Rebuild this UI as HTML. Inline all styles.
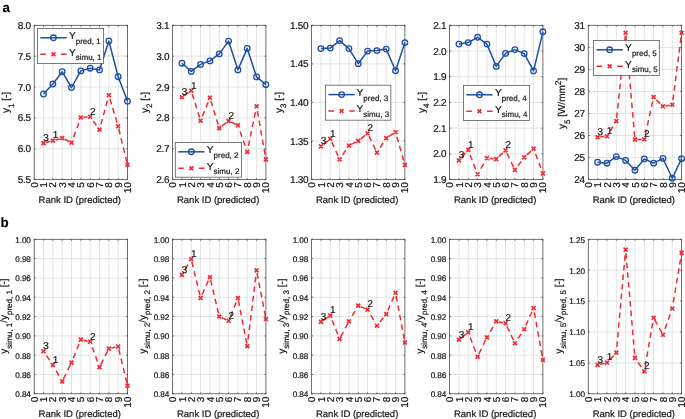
<!DOCTYPE html>
<html><head><meta charset="utf-8"><title>Figure</title>
<style>html,body{margin:0;padding:0;background:#fff;}body{width:685px;height:419px;overflow:hidden;font-family:"Liberation Sans", sans-serif;}svg{display:block;will-change:transform;}svg text{font-family:"Liberation Sans", sans-serif;text-rendering:geometricPrecision;stroke:#141414;stroke-width:0.2px;}</style>
</head><body>
<svg width="685" height="419" viewBox="0 0 685 419" fill="#141414">
<rect width="685" height="419" fill="#fff"/>
<text x="2.4" y="11.5" font-size="13.3" font-weight="bold" fill="#000" stroke="#000" stroke-width="0.2">a</text>
<text x="0.4" y="227.45" font-size="13.3" font-weight="bold" fill="#000" stroke="#000" stroke-width="0.2">b</text>
<path d="M43.53 25.3V179.6M52.86 25.3V179.6M62.19 25.3V179.6M71.52 25.3V179.6M80.85 25.3V179.6M90.18 25.3V179.6M99.51 25.3V179.6M108.84 25.3V179.6M118.17 25.3V179.6M34.2 56.16H127.5M34.2 87.02H127.5M34.2 117.88H127.5M34.2 148.74H127.5" stroke="#d6d8d8" stroke-width="0.7" fill="none"/>
<path d="M34.2 179.6v-1.4M34.2 25.3v1.4M43.53 179.6v-1.4M43.53 25.3v1.4M52.86 179.6v-1.4M52.86 25.3v1.4M62.19 179.6v-1.4M62.19 25.3v1.4M71.52 179.6v-1.4M71.52 25.3v1.4M80.85 179.6v-1.4M80.85 25.3v1.4M90.18 179.6v-1.4M90.18 25.3v1.4M99.51 179.6v-1.4M99.51 25.3v1.4M108.84 179.6v-1.4M108.84 25.3v1.4M118.17 179.6v-1.4M118.17 25.3v1.4M127.5 179.6v-1.4M127.5 25.3v1.4M34.2 25.3h1.4M127.5 25.3h-1.4M34.2 56.16h1.4M127.5 56.16h-1.4M34.2 87.02h1.4M127.5 87.02h-1.4M34.2 117.88h1.4M127.5 117.88h-1.4M34.2 148.74h1.4M127.5 148.74h-1.4M34.2 179.6h1.4M127.5 179.6h-1.4" stroke="#404040" stroke-width="0.75" fill="none"/>
<rect x="34.2" y="25.3" width="93.3" height="154.3" fill="none" stroke="#404040" stroke-width="0.75"/>
<text x="30.8" y="28.88" font-size="10.0" text-anchor="end" letter-spacing="-0.3">8.0</text>
<text x="30.8" y="59.74" font-size="10.0" text-anchor="end" letter-spacing="-0.3">7.5</text>
<text x="30.8" y="90.6" font-size="10.0" text-anchor="end" letter-spacing="-0.3">7.0</text>
<text x="30.8" y="121.46" font-size="10.0" text-anchor="end" letter-spacing="-0.3">6.5</text>
<text x="30.8" y="152.32" font-size="10.0" text-anchor="end" letter-spacing="-0.3">6.0</text>
<text x="30.8" y="183.18" font-size="10.0" text-anchor="end" letter-spacing="-0.3">5.5</text>
<text transform="translate(37.78 182.6) rotate(-90)" font-size="10.0" text-anchor="end" letter-spacing="-0.3">0</text>
<text transform="translate(47.11 182.6) rotate(-90)" font-size="10.0" text-anchor="end" letter-spacing="-0.3">1</text>
<text transform="translate(56.44 182.6) rotate(-90)" font-size="10.0" text-anchor="end" letter-spacing="-0.3">2</text>
<text transform="translate(65.77 182.6) rotate(-90)" font-size="10.0" text-anchor="end" letter-spacing="-0.3">3</text>
<text transform="translate(75.1 182.6) rotate(-90)" font-size="10.0" text-anchor="end" letter-spacing="-0.3">4</text>
<text transform="translate(84.43 182.6) rotate(-90)" font-size="10.0" text-anchor="end" letter-spacing="-0.3">5</text>
<text transform="translate(93.76 182.6) rotate(-90)" font-size="10.0" text-anchor="end" letter-spacing="-0.3">6</text>
<text transform="translate(103.09 182.6) rotate(-90)" font-size="10.0" text-anchor="end" letter-spacing="-0.3">7</text>
<text transform="translate(112.42 182.6) rotate(-90)" font-size="10.0" text-anchor="end" letter-spacing="-0.3">8</text>
<text transform="translate(121.75 182.6) rotate(-90)" font-size="10.0" text-anchor="end" letter-spacing="-0.3">9</text>
<text transform="translate(131.08 182.6) rotate(-90)" font-size="10.0" text-anchor="end" letter-spacing="-0.3">10</text>
<text x="79.75" y="203.3" font-size="9.5" text-anchor="middle">Rank ID (predicted)</text>
<text transform="translate(9.3 102.45) rotate(-90)" font-size="10.0" text-anchor="middle">y<tspan font-size="8.0" dy="4.4">1</tspan><tspan dy="-4.4"> [-]</tspan></text>
<polyline points="43.53,94 52.86,84 62.19,71.7 71.52,87.5 80.85,70.9 90.18,68.2 99.51,69.9 108.84,40.9 118.17,76.7 127.5,101.3" fill="none" stroke="#1f4fa3" stroke-width="1.5" stroke-linejoin="round"/>
<circle cx="43.53" cy="94" r="2.8" fill="none" stroke="#1f4fa3" stroke-width="1.3"/>
<circle cx="52.86" cy="84" r="2.8" fill="none" stroke="#1f4fa3" stroke-width="1.3"/>
<circle cx="62.19" cy="71.7" r="2.8" fill="none" stroke="#1f4fa3" stroke-width="1.3"/>
<circle cx="71.52" cy="87.5" r="2.8" fill="none" stroke="#1f4fa3" stroke-width="1.3"/>
<circle cx="80.85" cy="70.9" r="2.8" fill="none" stroke="#1f4fa3" stroke-width="1.3"/>
<circle cx="90.18" cy="68.2" r="2.8" fill="none" stroke="#1f4fa3" stroke-width="1.3"/>
<circle cx="99.51" cy="69.9" r="2.8" fill="none" stroke="#1f4fa3" stroke-width="1.3"/>
<circle cx="108.84" cy="40.9" r="2.8" fill="none" stroke="#1f4fa3" stroke-width="1.3"/>
<circle cx="118.17" cy="76.7" r="2.8" fill="none" stroke="#1f4fa3" stroke-width="1.3"/>
<circle cx="127.5" cy="101.3" r="2.8" fill="none" stroke="#1f4fa3" stroke-width="1.3"/>
<path d="M46.04 142.43L50.35 141.27M55.37 139.93L59.68 138.77M64.53 139.23L69.18 141.47M73.54 137.17L75.49 131.92M76.88 128.18L78.83 122.93M83.44 117.31L87.59 116.99M93.2 120.94L96.49 125.46M100.93 124.37L102.4 118.96M103.44 115.1L104.91 109.7M105.95 105.84L107.42 100.43M109.94 98.87L111.55 104.24M112.7 108.07L114.31 113.43M115.46 117.26L117.07 122.63M118.77 128.79L120.1 134.23M121.04 138.11L122.36 143.56M123.31 147.44L124.63 152.89M125.57 156.77L126.9 162.21" fill="none" stroke="#ee2c35" stroke-width="1.5"/>
<path d="M41.58 141.15l3.9 3.9M41.58 145.05l3.9 -3.9M50.91 138.65l3.9 3.9M50.91 142.55l3.9 -3.9M60.24 136.15l3.9 3.9M60.24 140.05l3.9 -3.9M69.57 140.65l3.9 3.9M69.57 144.55l3.9 -3.9M78.9 115.55l3.9 3.9M78.9 119.45l3.9 -3.9M88.23 114.85l3.9 3.9M88.23 118.75l3.9 -3.9M97.56 127.65l3.9 3.9M97.56 131.55l3.9 -3.9M106.89 93.25l3.9 3.9M106.89 97.15l3.9 -3.9M116.22 124.35l3.9 3.9M116.22 128.25l3.9 -3.9M125.55 162.75l3.9 3.9M125.55 166.65l3.9 -3.9" stroke="#ee2c35" stroke-width="1.7" fill="none"/>
<text x="43.33" y="140.9" font-size="10.0">3</text>
<text x="52.66" y="138.4" font-size="10.0">1</text>
<text x="89.98" y="114.6" font-size="10.0">2</text>
<rect x="37.4" y="28.4" width="66.2" height="35" fill="#fff" stroke="#5a5a5a" stroke-width="0.8"/>
<path d="M40.3 37.8H66.6" stroke="#1f4fa3" stroke-width="1.5"/>
<circle cx="53.45" cy="37.8" r="2.8" fill="none" stroke="#1f4fa3" stroke-width="1.3"/>
<path d="M40.3 54.2h5.6M66.6 54.2h-5.6" stroke="#ee2c35" stroke-width="1.5"/>
<path d="M51.55 52.3l3.8 3.8M51.55 56.1l3.8 -3.8" stroke="#ee2c35" stroke-width="1.7"/>
<text x="68.9" y="39.1" font-size="10.2">Y<tspan font-size="8" dy="4.6">pred, 1</tspan></text>
<text x="68.9" y="55.5" font-size="10.2">Y<tspan font-size="8" dy="4.6">simu, 1</tspan></text>
<path d="M43.53 239.3V393.8M52.86 239.3V393.8M62.19 239.3V393.8M71.52 239.3V393.8M80.85 239.3V393.8M90.18 239.3V393.8M99.51 239.3V393.8M108.84 239.3V393.8M118.17 239.3V393.8M34.2 258.61H127.5M34.2 277.93H127.5M34.2 297.24H127.5M34.2 316.55H127.5M34.2 335.86H127.5M34.2 355.18H127.5M34.2 374.49H127.5" stroke="#d6d8d8" stroke-width="0.7" fill="none"/>
<path d="M34.2 393.8v-1.4M34.2 239.3v1.4M43.53 393.8v-1.4M43.53 239.3v1.4M52.86 393.8v-1.4M52.86 239.3v1.4M62.19 393.8v-1.4M62.19 239.3v1.4M71.52 393.8v-1.4M71.52 239.3v1.4M80.85 393.8v-1.4M80.85 239.3v1.4M90.18 393.8v-1.4M90.18 239.3v1.4M99.51 393.8v-1.4M99.51 239.3v1.4M108.84 393.8v-1.4M108.84 239.3v1.4M118.17 393.8v-1.4M118.17 239.3v1.4M127.5 393.8v-1.4M127.5 239.3v1.4M34.2 239.3h1.4M127.5 239.3h-1.4M34.2 258.61h1.4M127.5 258.61h-1.4M34.2 277.93h1.4M127.5 277.93h-1.4M34.2 297.24h1.4M127.5 297.24h-1.4M34.2 316.55h1.4M127.5 316.55h-1.4M34.2 335.86h1.4M127.5 335.86h-1.4M34.2 355.18h1.4M127.5 355.18h-1.4M34.2 374.49h1.4M127.5 374.49h-1.4M34.2 393.8h1.4M127.5 393.8h-1.4" stroke="#404040" stroke-width="0.75" fill="none"/>
<rect x="34.2" y="239.3" width="93.3" height="154.5" fill="none" stroke="#404040" stroke-width="0.75"/>
<text x="30.8" y="242.64" font-size="8.2" text-anchor="end" letter-spacing="-0.1">1.00</text>
<text x="30.8" y="261.95" font-size="8.2" text-anchor="end" letter-spacing="-0.1">0.98</text>
<text x="30.8" y="281.26" font-size="8.2" text-anchor="end" letter-spacing="-0.1">0.96</text>
<text x="30.8" y="300.57" font-size="8.2" text-anchor="end" letter-spacing="-0.1">0.94</text>
<text x="30.8" y="319.89" font-size="8.2" text-anchor="end" letter-spacing="-0.1">0.92</text>
<text x="30.8" y="339.2" font-size="8.2" text-anchor="end" letter-spacing="-0.1">0.90</text>
<text x="30.8" y="358.51" font-size="8.2" text-anchor="end" letter-spacing="-0.1">0.88</text>
<text x="30.8" y="377.82" font-size="8.2" text-anchor="end" letter-spacing="-0.1">0.86</text>
<text x="30.8" y="397.14" font-size="8.2" text-anchor="end" letter-spacing="-0.1">0.84</text>
<text transform="translate(37.78 397.1) rotate(-90)" font-size="10.0" text-anchor="end" letter-spacing="-0.3">0</text>
<text transform="translate(47.11 397.1) rotate(-90)" font-size="10.0" text-anchor="end" letter-spacing="-0.3">1</text>
<text transform="translate(56.44 397.1) rotate(-90)" font-size="10.0" text-anchor="end" letter-spacing="-0.3">2</text>
<text transform="translate(65.77 397.1) rotate(-90)" font-size="10.0" text-anchor="end" letter-spacing="-0.3">3</text>
<text transform="translate(75.1 397.1) rotate(-90)" font-size="10.0" text-anchor="end" letter-spacing="-0.3">4</text>
<text transform="translate(84.43 397.1) rotate(-90)" font-size="10.0" text-anchor="end" letter-spacing="-0.3">5</text>
<text transform="translate(93.76 397.1) rotate(-90)" font-size="10.0" text-anchor="end" letter-spacing="-0.3">6</text>
<text transform="translate(103.09 397.1) rotate(-90)" font-size="10.0" text-anchor="end" letter-spacing="-0.3">7</text>
<text transform="translate(112.42 397.1) rotate(-90)" font-size="10.0" text-anchor="end" letter-spacing="-0.3">8</text>
<text transform="translate(121.75 397.1) rotate(-90)" font-size="10.0" text-anchor="end" letter-spacing="-0.3">9</text>
<text transform="translate(131.08 397.1) rotate(-90)" font-size="10.0" text-anchor="end" letter-spacing="-0.3">10</text>
<text x="79.75" y="416.5" font-size="9.5" text-anchor="middle">Rank ID (predicted)</text>
<text transform="translate(7.4 316.05) rotate(-90)" font-size="10.0" text-anchor="middle">y<tspan font-size="8.0" dy="4.4">simu, 1</tspan><tspan dy="-4.4">/y</tspan><tspan font-size="8.0" dy="4.4">pred, 1</tspan><tspan dy="-4.4"> [-]</tspan></text>
<path d="M46.61 355.79L49.78 360.41M56.15 370.71L58.9 375.59M63.48 378.81L65.97 373.79M67.74 370.21L70.23 365.19M73.33 358.14L75.43 352.95M76.94 349.25L79.04 344.06M83.38 340.2L87.65 341.2M92.22 347.32L94.15 352.57M95.54 356.33L97.47 361.58M100.75 364.64L103.27 359.64M105.08 356.06L107.6 351.06M111.38 348.06L115.63 347.14M118.84 349.42L120.14 354.87M121.07 358.76L122.37 364.2M123.3 368.1L124.6 373.54M125.53 377.43L126.83 382.88" fill="none" stroke="#ee2c35" stroke-width="1.5"/>
<path d="M41.58 349.35l3.9 3.9M41.58 353.25l3.9 -3.9M50.91 362.95l3.9 3.9M50.91 366.85l3.9 -3.9M60.24 379.45l3.9 3.9M60.24 383.35l3.9 -3.9M69.57 360.65l3.9 3.9M69.57 364.55l3.9 -3.9M78.9 337.65l3.9 3.9M78.9 341.55l3.9 -3.9M88.23 339.85l3.9 3.9M88.23 343.75l3.9 -3.9M97.56 365.15l3.9 3.9M97.56 369.05l3.9 -3.9M106.89 346.65l3.9 3.9M106.89 350.55l3.9 -3.9M116.22 344.65l3.9 3.9M116.22 348.55l3.9 -3.9M125.55 383.75l3.9 3.9M125.55 387.65l3.9 -3.9" stroke="#ee2c35" stroke-width="1.7" fill="none"/>
<text x="43.33" y="349.1" font-size="10.0">3</text>
<text x="52.66" y="362.7" font-size="10.0">1</text>
<text x="89.98" y="339.6" font-size="10.0">2</text>
<path d="M181.93 25.3V179.6M191.26 25.3V179.6M200.59 25.3V179.6M209.92 25.3V179.6M219.25 25.3V179.6M228.58 25.3V179.6M237.91 25.3V179.6M247.24 25.3V179.6M256.57 25.3V179.6M172.6 56.16H265.9M172.6 87.02H265.9M172.6 117.88H265.9M172.6 148.74H265.9" stroke="#d6d8d8" stroke-width="0.7" fill="none"/>
<path d="M172.6 179.6v-1.4M172.6 25.3v1.4M181.93 179.6v-1.4M181.93 25.3v1.4M191.26 179.6v-1.4M191.26 25.3v1.4M200.59 179.6v-1.4M200.59 25.3v1.4M209.92 179.6v-1.4M209.92 25.3v1.4M219.25 179.6v-1.4M219.25 25.3v1.4M228.58 179.6v-1.4M228.58 25.3v1.4M237.91 179.6v-1.4M237.91 25.3v1.4M247.24 179.6v-1.4M247.24 25.3v1.4M256.57 179.6v-1.4M256.57 25.3v1.4M265.9 179.6v-1.4M265.9 25.3v1.4M172.6 25.3h1.4M265.9 25.3h-1.4M172.6 56.16h1.4M265.9 56.16h-1.4M172.6 87.02h1.4M265.9 87.02h-1.4M172.6 117.88h1.4M265.9 117.88h-1.4M172.6 148.74h1.4M265.9 148.74h-1.4M172.6 179.6h1.4M265.9 179.6h-1.4" stroke="#404040" stroke-width="0.75" fill="none"/>
<rect x="172.6" y="25.3" width="93.3" height="154.3" fill="none" stroke="#404040" stroke-width="0.75"/>
<text x="169.2" y="28.88" font-size="10.0" text-anchor="end" letter-spacing="-0.3">3.1</text>
<text x="169.2" y="59.74" font-size="10.0" text-anchor="end" letter-spacing="-0.3">3.0</text>
<text x="169.2" y="90.6" font-size="10.0" text-anchor="end" letter-spacing="-0.3">2.9</text>
<text x="169.2" y="121.46" font-size="10.0" text-anchor="end" letter-spacing="-0.3">2.8</text>
<text x="169.2" y="152.32" font-size="10.0" text-anchor="end" letter-spacing="-0.3">2.7</text>
<text x="169.2" y="183.18" font-size="10.0" text-anchor="end" letter-spacing="-0.3">2.6</text>
<text transform="translate(176.18 182.6) rotate(-90)" font-size="10.0" text-anchor="end" letter-spacing="-0.3">0</text>
<text transform="translate(185.51 182.6) rotate(-90)" font-size="10.0" text-anchor="end" letter-spacing="-0.3">1</text>
<text transform="translate(194.84 182.6) rotate(-90)" font-size="10.0" text-anchor="end" letter-spacing="-0.3">2</text>
<text transform="translate(204.17 182.6) rotate(-90)" font-size="10.0" text-anchor="end" letter-spacing="-0.3">3</text>
<text transform="translate(213.5 182.6) rotate(-90)" font-size="10.0" text-anchor="end" letter-spacing="-0.3">4</text>
<text transform="translate(222.83 182.6) rotate(-90)" font-size="10.0" text-anchor="end" letter-spacing="-0.3">5</text>
<text transform="translate(232.16 182.6) rotate(-90)" font-size="10.0" text-anchor="end" letter-spacing="-0.3">6</text>
<text transform="translate(241.49 182.6) rotate(-90)" font-size="10.0" text-anchor="end" letter-spacing="-0.3">7</text>
<text transform="translate(250.82 182.6) rotate(-90)" font-size="10.0" text-anchor="end" letter-spacing="-0.3">8</text>
<text transform="translate(260.15 182.6) rotate(-90)" font-size="10.0" text-anchor="end" letter-spacing="-0.3">9</text>
<text transform="translate(269.48 182.6) rotate(-90)" font-size="10.0" text-anchor="end" letter-spacing="-0.3">10</text>
<text x="218.15" y="203.3" font-size="9.5" text-anchor="middle">Rank ID (predicted)</text>
<text transform="translate(147.7 102.45) rotate(-90)" font-size="10.0" text-anchor="middle">y<tspan font-size="8.0" dy="4.4">2</tspan><tspan dy="-4.4"> [-]</tspan></text>
<polyline points="181.93,63.2 191.26,71.4 200.59,64.4 209.92,60.9 219.25,53.9 228.58,41.1 237.91,69.9 247.24,48.4 256.57,76.9 265.9,84.7" fill="none" stroke="#1f4fa3" stroke-width="1.5" stroke-linejoin="round"/>
<circle cx="181.93" cy="63.2" r="2.8" fill="none" stroke="#1f4fa3" stroke-width="1.3"/>
<circle cx="191.26" cy="71.4" r="2.8" fill="none" stroke="#1f4fa3" stroke-width="1.3"/>
<circle cx="200.59" cy="64.4" r="2.8" fill="none" stroke="#1f4fa3" stroke-width="1.3"/>
<circle cx="209.92" cy="60.9" r="2.8" fill="none" stroke="#1f4fa3" stroke-width="1.3"/>
<circle cx="219.25" cy="53.9" r="2.8" fill="none" stroke="#1f4fa3" stroke-width="1.3"/>
<circle cx="228.58" cy="41.1" r="2.8" fill="none" stroke="#1f4fa3" stroke-width="1.3"/>
<circle cx="237.91" cy="69.9" r="2.8" fill="none" stroke="#1f4fa3" stroke-width="1.3"/>
<circle cx="247.24" cy="48.4" r="2.8" fill="none" stroke="#1f4fa3" stroke-width="1.3"/>
<circle cx="256.57" cy="76.9" r="2.8" fill="none" stroke="#1f4fa3" stroke-width="1.3"/>
<circle cx="265.9" cy="84.7" r="2.8" fill="none" stroke="#1f4fa3" stroke-width="1.3"/>
<path d="M184.3 95.55L188.89 92.35M192.25 93.91L193.91 99.25M195.1 103.08L196.75 108.42M197.94 112.25L199.6 117.59M202.41 116.3L204.51 111.1M206 107.4L208.1 102.2M210.95 101.05L212.59 106.4M213.76 110.22L215.41 115.58M216.58 119.4L218.22 124.75M221.69 126.25L226.14 122.85M230.94 122.09L235.55 124.21M240.06 131.43L241.91 136.71M243.24 140.49L245.09 145.77M248.46 145.95L249.58 140.46M250.38 136.55L251.5 131.06M252.31 127.14L253.43 121.65M254.23 117.74L255.35 112.25M257.43 111.18L258.4 116.7M259.09 120.64L260.06 126.15M260.75 130.09L261.72 135.61M262.41 139.55L263.38 145.06M264.07 149L265.04 154.52" fill="none" stroke="#ee2c35" stroke-width="1.5"/>
<path d="M179.98 95.25l3.9 3.9M179.98 99.15l3.9 -3.9M189.31 88.75l3.9 3.9M189.31 92.65l3.9 -3.9M198.64 118.85l3.9 3.9M198.64 122.75l3.9 -3.9M207.97 95.75l3.9 3.9M207.97 99.65l3.9 -3.9M217.3 126.15l3.9 3.9M217.3 130.05l3.9 -3.9M226.63 119.05l3.9 3.9M226.63 122.95l3.9 -3.9M235.96 123.35l3.9 3.9M235.96 127.25l3.9 -3.9M245.29 149.95l3.9 3.9M245.29 153.85l3.9 -3.9M254.62 104.35l3.9 3.9M254.62 108.25l3.9 -3.9M263.95 157.45l3.9 3.9M263.95 161.35l3.9 -3.9" stroke="#ee2c35" stroke-width="1.7" fill="none"/>
<text x="181.73" y="95" font-size="10.0">3</text>
<text x="191.06" y="88.5" font-size="10.0">1</text>
<text x="228.38" y="118.8" font-size="10.0">2</text>
<rect x="175.3" y="142.4" width="66.2" height="34.8" fill="#fff" stroke="#5a5a5a" stroke-width="0.8"/>
<path d="M178.2 151.8H204.5" stroke="#1f4fa3" stroke-width="1.5"/>
<circle cx="191.35" cy="151.8" r="2.8" fill="none" stroke="#1f4fa3" stroke-width="1.3"/>
<path d="M178.2 168.2h5.6M204.5 168.2h-5.6" stroke="#ee2c35" stroke-width="1.5"/>
<path d="M189.45 166.3l3.8 3.8M189.45 170.1l3.8 -3.8" stroke="#ee2c35" stroke-width="1.7"/>
<text x="206.8" y="153.1" font-size="10.2">Y<tspan font-size="8" dy="4.6">pred, 2</tspan></text>
<text x="206.8" y="169.5" font-size="10.2">Y<tspan font-size="8" dy="4.6">simu, 2</tspan></text>
<path d="M181.93 239.3V393.8M191.26 239.3V393.8M200.59 239.3V393.8M209.92 239.3V393.8M219.25 239.3V393.8M228.58 239.3V393.8M237.91 239.3V393.8M247.24 239.3V393.8M256.57 239.3V393.8M172.6 258.61H265.9M172.6 277.93H265.9M172.6 297.24H265.9M172.6 316.55H265.9M172.6 335.86H265.9M172.6 355.18H265.9M172.6 374.49H265.9" stroke="#d6d8d8" stroke-width="0.7" fill="none"/>
<path d="M172.6 393.8v-1.4M172.6 239.3v1.4M181.93 393.8v-1.4M181.93 239.3v1.4M191.26 393.8v-1.4M191.26 239.3v1.4M200.59 393.8v-1.4M200.59 239.3v1.4M209.92 393.8v-1.4M209.92 239.3v1.4M219.25 393.8v-1.4M219.25 239.3v1.4M228.58 393.8v-1.4M228.58 239.3v1.4M237.91 393.8v-1.4M237.91 239.3v1.4M247.24 393.8v-1.4M247.24 239.3v1.4M256.57 393.8v-1.4M256.57 239.3v1.4M265.9 393.8v-1.4M265.9 239.3v1.4M172.6 239.3h1.4M265.9 239.3h-1.4M172.6 258.61h1.4M265.9 258.61h-1.4M172.6 277.93h1.4M265.9 277.93h-1.4M172.6 297.24h1.4M265.9 297.24h-1.4M172.6 316.55h1.4M265.9 316.55h-1.4M172.6 335.86h1.4M265.9 335.86h-1.4M172.6 355.18h1.4M265.9 355.18h-1.4M172.6 374.49h1.4M265.9 374.49h-1.4M172.6 393.8h1.4M265.9 393.8h-1.4" stroke="#404040" stroke-width="0.75" fill="none"/>
<rect x="172.6" y="239.3" width="93.3" height="154.5" fill="none" stroke="#404040" stroke-width="0.75"/>
<text x="169.2" y="242.64" font-size="8.2" text-anchor="end" letter-spacing="-0.1">1.00</text>
<text x="169.2" y="261.95" font-size="8.2" text-anchor="end" letter-spacing="-0.1">0.98</text>
<text x="169.2" y="281.26" font-size="8.2" text-anchor="end" letter-spacing="-0.1">0.96</text>
<text x="169.2" y="300.57" font-size="8.2" text-anchor="end" letter-spacing="-0.1">0.94</text>
<text x="169.2" y="319.89" font-size="8.2" text-anchor="end" letter-spacing="-0.1">0.92</text>
<text x="169.2" y="339.2" font-size="8.2" text-anchor="end" letter-spacing="-0.1">0.90</text>
<text x="169.2" y="358.51" font-size="8.2" text-anchor="end" letter-spacing="-0.1">0.88</text>
<text x="169.2" y="377.82" font-size="8.2" text-anchor="end" letter-spacing="-0.1">0.86</text>
<text x="169.2" y="397.14" font-size="8.2" text-anchor="end" letter-spacing="-0.1">0.84</text>
<text transform="translate(176.18 397.1) rotate(-90)" font-size="10.0" text-anchor="end" letter-spacing="-0.3">0</text>
<text transform="translate(185.51 397.1) rotate(-90)" font-size="10.0" text-anchor="end" letter-spacing="-0.3">1</text>
<text transform="translate(194.84 397.1) rotate(-90)" font-size="10.0" text-anchor="end" letter-spacing="-0.3">2</text>
<text transform="translate(204.17 397.1) rotate(-90)" font-size="10.0" text-anchor="end" letter-spacing="-0.3">3</text>
<text transform="translate(213.5 397.1) rotate(-90)" font-size="10.0" text-anchor="end" letter-spacing="-0.3">4</text>
<text transform="translate(222.83 397.1) rotate(-90)" font-size="10.0" text-anchor="end" letter-spacing="-0.3">5</text>
<text transform="translate(232.16 397.1) rotate(-90)" font-size="10.0" text-anchor="end" letter-spacing="-0.3">6</text>
<text transform="translate(241.49 397.1) rotate(-90)" font-size="10.0" text-anchor="end" letter-spacing="-0.3">7</text>
<text transform="translate(250.82 397.1) rotate(-90)" font-size="10.0" text-anchor="end" letter-spacing="-0.3">8</text>
<text transform="translate(260.15 397.1) rotate(-90)" font-size="10.0" text-anchor="end" letter-spacing="-0.3">9</text>
<text transform="translate(269.48 397.1) rotate(-90)" font-size="10.0" text-anchor="end" letter-spacing="-0.3">10</text>
<text x="218.15" y="416.5" font-size="9.5" text-anchor="middle">Rank ID (predicted)</text>
<text transform="translate(145.8 316.05) rotate(-90)" font-size="10.0" text-anchor="middle">y<tspan font-size="8.0" dy="4.4">simu, 2</tspan><tspan dy="-4.4">/y</tspan><tspan font-size="8.0" dy="4.4">pred, 2</tspan><tspan dy="-4.4"> [-]</tspan></text>
<path d="M185.17 269.41L188.02 264.59M191.91 261.82L193.22 267.27M194.15 271.16L195.46 276.61M196.39 280.49L197.7 285.94M198.63 289.83L199.94 295.28M202.14 294.53L204.44 289.42M206.07 285.78L208.37 280.67M210.61 280.12L211.91 285.56M212.83 289.46L214.12 294.9M215.05 298.8L216.34 304.24M217.26 308.14L218.56 313.58M221.61 317.59L226.22 319.71M230.37 316.43L232.49 311.25M234 307.55L236.12 302.37M238.39 300.45L239.45 305.95M240.21 309.88L241.28 315.37M242.04 319.3L243.11 324.8M243.87 328.73L244.94 334.22M245.7 338.15L246.76 343.65M248.04 339.61L248.72 334.05M249.21 330.08L249.9 324.53M250.39 320.56L251.07 315M251.56 311.03L252.25 305.47M252.74 301.5L253.42 295.94M253.91 291.97L254.6 286.42M255.09 282.45L255.77 276.89M257.09 273.09L258.14 278.59M258.9 282.52L259.95 288.02M260.71 291.95L261.76 297.45M262.52 301.38L263.57 306.88M264.33 310.81L265.38 316.31" fill="none" stroke="#ee2c35" stroke-width="1.5"/>
<path d="M179.98 272.95l3.9 3.9M179.98 276.85l3.9 -3.9M189.31 257.15l3.9 3.9M189.31 261.05l3.9 -3.9M198.64 296.05l3.9 3.9M198.64 299.95l3.9 -3.9M207.97 275.25l3.9 3.9M207.97 279.15l3.9 -3.9M217.3 314.55l3.9 3.9M217.3 318.45l3.9 -3.9M226.63 318.85l3.9 3.9M226.63 322.75l3.9 -3.9M235.96 296.05l3.9 3.9M235.96 299.95l3.9 -3.9M245.29 344.15l3.9 3.9M245.29 348.05l3.9 -3.9M254.62 268.45l3.9 3.9M254.62 272.35l3.9 -3.9M263.95 317.05l3.9 3.9M263.95 320.95l3.9 -3.9" stroke="#ee2c35" stroke-width="1.7" fill="none"/>
<text x="181.73" y="272.7" font-size="10.0">3</text>
<text x="191.06" y="256.9" font-size="10.0">1</text>
<text x="228.38" y="318.6" font-size="10.0">2</text>
<path d="M320.93 25.3V179.6M330.26 25.3V179.6M339.59 25.3V179.6M348.92 25.3V179.6M358.25 25.3V179.6M367.58 25.3V179.6M376.91 25.3V179.6M386.24 25.3V179.6M395.57 25.3V179.6M311.6 63.88H404.9M311.6 102.45H404.9M311.6 141.03H404.9" stroke="#d6d8d8" stroke-width="0.7" fill="none"/>
<path d="M311.6 179.6v-1.4M311.6 25.3v1.4M320.93 179.6v-1.4M320.93 25.3v1.4M330.26 179.6v-1.4M330.26 25.3v1.4M339.59 179.6v-1.4M339.59 25.3v1.4M348.92 179.6v-1.4M348.92 25.3v1.4M358.25 179.6v-1.4M358.25 25.3v1.4M367.58 179.6v-1.4M367.58 25.3v1.4M376.91 179.6v-1.4M376.91 25.3v1.4M386.24 179.6v-1.4M386.24 25.3v1.4M395.57 179.6v-1.4M395.57 25.3v1.4M404.9 179.6v-1.4M404.9 25.3v1.4M311.6 25.3h1.4M404.9 25.3h-1.4M311.6 63.88h1.4M404.9 63.88h-1.4M311.6 102.45h1.4M404.9 102.45h-1.4M311.6 141.03h1.4M404.9 141.03h-1.4M311.6 179.6h1.4M404.9 179.6h-1.4" stroke="#404040" stroke-width="0.75" fill="none"/>
<rect x="311.6" y="25.3" width="93.3" height="154.3" fill="none" stroke="#404040" stroke-width="0.75"/>
<text x="308.2" y="28.88" font-size="10.0" text-anchor="end" letter-spacing="-0.3">1.50</text>
<text x="308.2" y="67.45" font-size="10.0" text-anchor="end" letter-spacing="-0.3">1.45</text>
<text x="308.2" y="106.03" font-size="10.0" text-anchor="end" letter-spacing="-0.3">1.40</text>
<text x="308.2" y="144.61" font-size="10.0" text-anchor="end" letter-spacing="-0.3">1.35</text>
<text x="308.2" y="183.18" font-size="10.0" text-anchor="end" letter-spacing="-0.3">1.30</text>
<text transform="translate(315.18 182.6) rotate(-90)" font-size="10.0" text-anchor="end" letter-spacing="-0.3">0</text>
<text transform="translate(324.51 182.6) rotate(-90)" font-size="10.0" text-anchor="end" letter-spacing="-0.3">1</text>
<text transform="translate(333.84 182.6) rotate(-90)" font-size="10.0" text-anchor="end" letter-spacing="-0.3">2</text>
<text transform="translate(343.17 182.6) rotate(-90)" font-size="10.0" text-anchor="end" letter-spacing="-0.3">3</text>
<text transform="translate(352.5 182.6) rotate(-90)" font-size="10.0" text-anchor="end" letter-spacing="-0.3">4</text>
<text transform="translate(361.83 182.6) rotate(-90)" font-size="10.0" text-anchor="end" letter-spacing="-0.3">5</text>
<text transform="translate(371.16 182.6) rotate(-90)" font-size="10.0" text-anchor="end" letter-spacing="-0.3">6</text>
<text transform="translate(380.49 182.6) rotate(-90)" font-size="10.0" text-anchor="end" letter-spacing="-0.3">7</text>
<text transform="translate(389.82 182.6) rotate(-90)" font-size="10.0" text-anchor="end" letter-spacing="-0.3">8</text>
<text transform="translate(399.15 182.6) rotate(-90)" font-size="10.0" text-anchor="end" letter-spacing="-0.3">9</text>
<text transform="translate(408.48 182.6) rotate(-90)" font-size="10.0" text-anchor="end" letter-spacing="-0.3">10</text>
<text x="357.15" y="203.3" font-size="9.5" text-anchor="middle">Rank ID (predicted)</text>
<text transform="translate(282 102.45) rotate(-90)" font-size="10.0" text-anchor="middle">y<tspan font-size="8.0" dy="4.4">3</tspan><tspan dy="-4.4"> [-]</tspan></text>
<polyline points="320.93,48.6 330.26,48.1 339.59,40.6 348.92,48.6 358.25,63.7 367.58,51.1 376.91,50.6 386.24,49.1 395.57,70.7 404.9,42.6" fill="none" stroke="#1f4fa3" stroke-width="1.5" stroke-linejoin="round"/>
<circle cx="320.93" cy="48.6" r="2.8" fill="none" stroke="#1f4fa3" stroke-width="1.3"/>
<circle cx="330.26" cy="48.1" r="2.8" fill="none" stroke="#1f4fa3" stroke-width="1.3"/>
<circle cx="339.59" cy="40.6" r="2.8" fill="none" stroke="#1f4fa3" stroke-width="1.3"/>
<circle cx="348.92" cy="48.6" r="2.8" fill="none" stroke="#1f4fa3" stroke-width="1.3"/>
<circle cx="358.25" cy="63.7" r="2.8" fill="none" stroke="#1f4fa3" stroke-width="1.3"/>
<circle cx="367.58" cy="51.1" r="2.8" fill="none" stroke="#1f4fa3" stroke-width="1.3"/>
<circle cx="376.91" cy="50.6" r="2.8" fill="none" stroke="#1f4fa3" stroke-width="1.3"/>
<circle cx="386.24" cy="49.1" r="2.8" fill="none" stroke="#1f4fa3" stroke-width="1.3"/>
<circle cx="395.57" cy="70.7" r="2.8" fill="none" stroke="#1f4fa3" stroke-width="1.3"/>
<circle cx="404.9" cy="42.6" r="2.8" fill="none" stroke="#1f4fa3" stroke-width="1.3"/>
<path d="M323.42 144.37L327.77 140.83M331.79 142.18L334.1 147.28M335.75 150.92L338.06 156.02M342.69 154.82L345.82 150.18M351.24 144.43L355.93 142.07M360.74 138.87L365.09 135.33M368.94 136.11L371.37 141.15M373.12 144.75L375.55 149.79M380.06 147.7L383.09 143M388.53 136.68L393.28 133.72M396.82 136.68L398.36 142.06M399.46 145.91L401.01 151.29M402.11 155.14L403.65 160.52" fill="none" stroke="#ee2c35" stroke-width="1.5"/>
<path d="M318.98 144.45l3.9 3.9M318.98 148.35l3.9 -3.9M328.31 136.85l3.9 3.9M328.31 140.75l3.9 -3.9M337.64 157.45l3.9 3.9M337.64 161.35l3.9 -3.9M346.97 143.65l3.9 3.9M346.97 147.55l3.9 -3.9M356.3 138.95l3.9 3.9M356.3 142.85l3.9 -3.9M365.63 131.35l3.9 3.9M365.63 135.25l3.9 -3.9M374.96 150.65l3.9 3.9M374.96 154.55l3.9 -3.9M384.29 136.15l3.9 3.9M384.29 140.05l3.9 -3.9M393.62 130.35l3.9 3.9M393.62 134.25l3.9 -3.9M402.95 162.95l3.9 3.9M402.95 166.85l3.9 -3.9" stroke="#ee2c35" stroke-width="1.7" fill="none"/>
<text x="320.73" y="144.2" font-size="10.0">3</text>
<text x="330.06" y="136.6" font-size="10.0">1</text>
<text x="367.38" y="131.1" font-size="10.0">2</text>
<rect x="325.55" y="85.2" width="65.3" height="35" fill="#fff" stroke="#5a5a5a" stroke-width="0.8"/>
<path d="M328.45 94.6H354.75" stroke="#1f4fa3" stroke-width="1.5"/>
<circle cx="341.6" cy="94.6" r="2.8" fill="none" stroke="#1f4fa3" stroke-width="1.3"/>
<path d="M328.45 111h5.6M354.75 111h-5.6" stroke="#ee2c35" stroke-width="1.5"/>
<path d="M339.7 109.1l3.8 3.8M339.7 112.9l3.8 -3.8" stroke="#ee2c35" stroke-width="1.7"/>
<text x="356.55" y="95.9" font-size="10.2">Y<tspan font-size="8" dy="4.6">pred, 3</tspan></text>
<text x="356.55" y="112.3" font-size="10.2">Y<tspan font-size="8" dy="4.6">simu, 3</tspan></text>
<path d="M320.93 239.3V393.8M330.26 239.3V393.8M339.59 239.3V393.8M348.92 239.3V393.8M358.25 239.3V393.8M367.58 239.3V393.8M376.91 239.3V393.8M386.24 239.3V393.8M395.57 239.3V393.8M311.6 258.61H404.9M311.6 277.93H404.9M311.6 297.24H404.9M311.6 316.55H404.9M311.6 335.86H404.9M311.6 355.18H404.9M311.6 374.49H404.9" stroke="#d6d8d8" stroke-width="0.7" fill="none"/>
<path d="M311.6 393.8v-1.4M311.6 239.3v1.4M320.93 393.8v-1.4M320.93 239.3v1.4M330.26 393.8v-1.4M330.26 239.3v1.4M339.59 393.8v-1.4M339.59 239.3v1.4M348.92 393.8v-1.4M348.92 239.3v1.4M358.25 393.8v-1.4M358.25 239.3v1.4M367.58 393.8v-1.4M367.58 239.3v1.4M376.91 393.8v-1.4M376.91 239.3v1.4M386.24 393.8v-1.4M386.24 239.3v1.4M395.57 393.8v-1.4M395.57 239.3v1.4M404.9 393.8v-1.4M404.9 239.3v1.4M311.6 239.3h1.4M404.9 239.3h-1.4M311.6 258.61h1.4M404.9 258.61h-1.4M311.6 277.93h1.4M404.9 277.93h-1.4M311.6 297.24h1.4M404.9 297.24h-1.4M311.6 316.55h1.4M404.9 316.55h-1.4M311.6 335.86h1.4M404.9 335.86h-1.4M311.6 355.18h1.4M404.9 355.18h-1.4M311.6 374.49h1.4M404.9 374.49h-1.4M311.6 393.8h1.4M404.9 393.8h-1.4" stroke="#404040" stroke-width="0.75" fill="none"/>
<rect x="311.6" y="239.3" width="93.3" height="154.5" fill="none" stroke="#404040" stroke-width="0.75"/>
<text x="308.2" y="242.64" font-size="8.2" text-anchor="end" letter-spacing="-0.1">1.00</text>
<text x="308.2" y="261.95" font-size="8.2" text-anchor="end" letter-spacing="-0.1">0.98</text>
<text x="308.2" y="281.26" font-size="8.2" text-anchor="end" letter-spacing="-0.1">0.96</text>
<text x="308.2" y="300.57" font-size="8.2" text-anchor="end" letter-spacing="-0.1">0.94</text>
<text x="308.2" y="319.89" font-size="8.2" text-anchor="end" letter-spacing="-0.1">0.92</text>
<text x="308.2" y="339.2" font-size="8.2" text-anchor="end" letter-spacing="-0.1">0.90</text>
<text x="308.2" y="358.51" font-size="8.2" text-anchor="end" letter-spacing="-0.1">0.88</text>
<text x="308.2" y="377.82" font-size="8.2" text-anchor="end" letter-spacing="-0.1">0.86</text>
<text x="308.2" y="397.14" font-size="8.2" text-anchor="end" letter-spacing="-0.1">0.84</text>
<text transform="translate(315.18 397.1) rotate(-90)" font-size="10.0" text-anchor="end" letter-spacing="-0.3">0</text>
<text transform="translate(324.51 397.1) rotate(-90)" font-size="10.0" text-anchor="end" letter-spacing="-0.3">1</text>
<text transform="translate(333.84 397.1) rotate(-90)" font-size="10.0" text-anchor="end" letter-spacing="-0.3">2</text>
<text transform="translate(343.17 397.1) rotate(-90)" font-size="10.0" text-anchor="end" letter-spacing="-0.3">3</text>
<text transform="translate(352.5 397.1) rotate(-90)" font-size="10.0" text-anchor="end" letter-spacing="-0.3">4</text>
<text transform="translate(361.83 397.1) rotate(-90)" font-size="10.0" text-anchor="end" letter-spacing="-0.3">5</text>
<text transform="translate(371.16 397.1) rotate(-90)" font-size="10.0" text-anchor="end" letter-spacing="-0.3">6</text>
<text transform="translate(380.49 397.1) rotate(-90)" font-size="10.0" text-anchor="end" letter-spacing="-0.3">7</text>
<text transform="translate(389.82 397.1) rotate(-90)" font-size="10.0" text-anchor="end" letter-spacing="-0.3">8</text>
<text transform="translate(399.15 397.1) rotate(-90)" font-size="10.0" text-anchor="end" letter-spacing="-0.3">9</text>
<text transform="translate(408.48 397.1) rotate(-90)" font-size="10.0" text-anchor="end" letter-spacing="-0.3">10</text>
<text x="357.15" y="416.5" font-size="9.5" text-anchor="middle">Rank ID (predicted)</text>
<text transform="translate(284.8 316.05) rotate(-90)" font-size="10.0" text-anchor="middle">y<tspan font-size="8.0" dy="4.4">simu, 3</tspan><tspan dy="-4.4">/y</tspan><tspan font-size="8.0" dy="4.4">pred, 3</tspan><tspan dy="-4.4"> [-]</tspan></text>
<path d="M323.27 320.32L327.92 317.18M332.1 320.19L334.18 325.39M335.67 329.11L337.75 334.31M340.68 336.86L343.31 331.91M345.2 328.39L347.83 323.44M352.16 315.91L355.01 311.09M360.64 306.62L365.19 308.58M370.84 315.23L373.65 320.07M379.82 322.08L383.33 317.72M387.86 310.41L390.1 305.28M391.71 301.62L393.95 296.49M396.18 296.03L397.21 301.53M397.95 305.46L398.98 310.97M399.72 314.9L400.75 320.4M401.49 324.33L402.52 329.84M403.26 333.77L404.29 339.27" fill="none" stroke="#ee2c35" stroke-width="1.5"/>
<path d="M318.98 319.95l3.9 3.9M318.98 323.85l3.9 -3.9M328.31 313.65l3.9 3.9M328.31 317.55l3.9 -3.9M337.64 336.95l3.9 3.9M337.64 340.85l3.9 -3.9M346.97 319.45l3.9 3.9M346.97 323.35l3.9 -3.9M356.3 303.65l3.9 3.9M356.3 307.55l3.9 -3.9M365.63 307.65l3.9 3.9M365.63 311.55l3.9 -3.9M374.96 323.75l3.9 3.9M374.96 327.65l3.9 -3.9M384.29 312.15l3.9 3.9M384.29 316.05l3.9 -3.9M393.62 290.85l3.9 3.9M393.62 294.75l3.9 -3.9M402.95 340.55l3.9 3.9M402.95 344.45l3.9 -3.9" stroke="#ee2c35" stroke-width="1.7" fill="none"/>
<text x="320.73" y="319.7" font-size="10.0">3</text>
<text x="330.06" y="313.4" font-size="10.0">1</text>
<text x="367.38" y="307.4" font-size="10.0">2</text>
<path d="M458.93 25.3V179.6M468.26 25.3V179.6M477.59 25.3V179.6M486.92 25.3V179.6M496.25 25.3V179.6M505.58 25.3V179.6M514.91 25.3V179.6M524.24 25.3V179.6M533.57 25.3V179.6M449.6 51.02H542.9M449.6 76.73H542.9M449.6 102.45H542.9M449.6 128.17H542.9M449.6 153.88H542.9" stroke="#d6d8d8" stroke-width="0.7" fill="none"/>
<path d="M449.6 179.6v-1.4M449.6 25.3v1.4M458.93 179.6v-1.4M458.93 25.3v1.4M468.26 179.6v-1.4M468.26 25.3v1.4M477.59 179.6v-1.4M477.59 25.3v1.4M486.92 179.6v-1.4M486.92 25.3v1.4M496.25 179.6v-1.4M496.25 25.3v1.4M505.58 179.6v-1.4M505.58 25.3v1.4M514.91 179.6v-1.4M514.91 25.3v1.4M524.24 179.6v-1.4M524.24 25.3v1.4M533.57 179.6v-1.4M533.57 25.3v1.4M542.9 179.6v-1.4M542.9 25.3v1.4M449.6 25.3h1.4M542.9 25.3h-1.4M449.6 51.02h1.4M542.9 51.02h-1.4M449.6 76.73h1.4M542.9 76.73h-1.4M449.6 102.45h1.4M542.9 102.45h-1.4M449.6 128.17h1.4M542.9 128.17h-1.4M449.6 153.88h1.4M542.9 153.88h-1.4M449.6 179.6h1.4M542.9 179.6h-1.4" stroke="#404040" stroke-width="0.75" fill="none"/>
<rect x="449.6" y="25.3" width="93.3" height="154.3" fill="none" stroke="#404040" stroke-width="0.75"/>
<text x="446.2" y="28.88" font-size="10.0" text-anchor="end" letter-spacing="-0.3">2.1</text>
<text x="446.2" y="54.6" font-size="10.0" text-anchor="end" letter-spacing="-0.3">2.0</text>
<text x="446.2" y="80.31" font-size="10.0" text-anchor="end" letter-spacing="-0.3">1.9</text>
<text x="446.2" y="106.03" font-size="10.0" text-anchor="end" letter-spacing="-0.3">2.2</text>
<text x="446.2" y="131.75" font-size="10.0" text-anchor="end" letter-spacing="-0.3">2.1</text>
<text x="446.2" y="157.46" font-size="10.0" text-anchor="end" letter-spacing="-0.3">2.0</text>
<text x="446.2" y="183.18" font-size="10.0" text-anchor="end" letter-spacing="-0.3">1.9</text>
<text transform="translate(453.18 182.6) rotate(-90)" font-size="10.0" text-anchor="end" letter-spacing="-0.3">0</text>
<text transform="translate(462.51 182.6) rotate(-90)" font-size="10.0" text-anchor="end" letter-spacing="-0.3">1</text>
<text transform="translate(471.84 182.6) rotate(-90)" font-size="10.0" text-anchor="end" letter-spacing="-0.3">2</text>
<text transform="translate(481.17 182.6) rotate(-90)" font-size="10.0" text-anchor="end" letter-spacing="-0.3">3</text>
<text transform="translate(490.5 182.6) rotate(-90)" font-size="10.0" text-anchor="end" letter-spacing="-0.3">4</text>
<text transform="translate(499.83 182.6) rotate(-90)" font-size="10.0" text-anchor="end" letter-spacing="-0.3">5</text>
<text transform="translate(509.16 182.6) rotate(-90)" font-size="10.0" text-anchor="end" letter-spacing="-0.3">6</text>
<text transform="translate(518.49 182.6) rotate(-90)" font-size="10.0" text-anchor="end" letter-spacing="-0.3">7</text>
<text transform="translate(527.82 182.6) rotate(-90)" font-size="10.0" text-anchor="end" letter-spacing="-0.3">8</text>
<text transform="translate(537.15 182.6) rotate(-90)" font-size="10.0" text-anchor="end" letter-spacing="-0.3">9</text>
<text transform="translate(546.48 182.6) rotate(-90)" font-size="10.0" text-anchor="end" letter-spacing="-0.3">10</text>
<text x="495.15" y="203.3" font-size="9.5" text-anchor="middle">Rank ID (predicted)</text>
<text transform="translate(424.7 102.45) rotate(-90)" font-size="10.0" text-anchor="middle">y<tspan font-size="8.0" dy="4.4">4</tspan><tspan dy="-4.4"> [-]</tspan></text>
<polyline points="458.93,44.1 468.26,42.6 477.59,37.3 486.92,44.1 496.25,66.4 505.58,53.4 514.91,49.6 524.24,53.6 533.57,70.9 542.9,31.8" fill="none" stroke="#1f4fa3" stroke-width="1.5" stroke-linejoin="round"/>
<circle cx="458.93" cy="44.1" r="2.8" fill="none" stroke="#1f4fa3" stroke-width="1.3"/>
<circle cx="468.26" cy="42.6" r="2.8" fill="none" stroke="#1f4fa3" stroke-width="1.3"/>
<circle cx="477.59" cy="37.3" r="2.8" fill="none" stroke="#1f4fa3" stroke-width="1.3"/>
<circle cx="486.92" cy="44.1" r="2.8" fill="none" stroke="#1f4fa3" stroke-width="1.3"/>
<circle cx="496.25" cy="66.4" r="2.8" fill="none" stroke="#1f4fa3" stroke-width="1.3"/>
<circle cx="505.58" cy="53.4" r="2.8" fill="none" stroke="#1f4fa3" stroke-width="1.3"/>
<circle cx="514.91" cy="49.6" r="2.8" fill="none" stroke="#1f4fa3" stroke-width="1.3"/>
<circle cx="524.24" cy="53.6" r="2.8" fill="none" stroke="#1f4fa3" stroke-width="1.3"/>
<circle cx="533.57" cy="70.9" r="2.8" fill="none" stroke="#1f4fa3" stroke-width="1.3"/>
<circle cx="542.9" cy="31.8" r="2.8" fill="none" stroke="#1f4fa3" stroke-width="1.3"/>
<path d="M461.74 157.24L465.45 153.06M470.2 154.95L472.21 160.18M473.64 163.92L475.65 169.15M480.85 168.57L483.66 163.73M489.51 158.38L493.66 158.82M498.87 156.66L502.96 152.84M506.96 153.29L509.38 158.35M511.11 161.95L513.53 167.01M517.9 165.89L521.25 161.41M526.87 154.92L530.94 151.08M535.56 153.89L537.53 159.13M538.94 162.87L540.91 168.11" fill="none" stroke="#ee2c35" stroke-width="1.5"/>
<path d="M456.98 158.45l3.9 3.9M456.98 162.35l3.9 -3.9M466.31 147.95l3.9 3.9M466.31 151.85l3.9 -3.9M475.64 172.25l3.9 3.9M475.64 176.15l3.9 -3.9M484.97 156.15l3.9 3.9M484.97 160.05l3.9 -3.9M494.3 157.15l3.9 3.9M494.3 161.05l3.9 -3.9M503.63 148.45l3.9 3.9M503.63 152.35l3.9 -3.9M512.96 167.95l3.9 3.9M512.96 171.85l3.9 -3.9M522.29 155.45l3.9 3.9M522.29 159.35l3.9 -3.9M531.62 146.65l3.9 3.9M531.62 150.55l3.9 -3.9M540.95 171.45l3.9 3.9M540.95 175.35l3.9 -3.9" stroke="#ee2c35" stroke-width="1.7" fill="none"/>
<text x="458.73" y="158.2" font-size="10.0">3</text>
<text x="468.06" y="147.7" font-size="10.0">1</text>
<text x="505.38" y="148.2" font-size="10.0">2</text>
<rect x="463.4" y="85.4" width="66.2" height="35" fill="#fff" stroke="#5a5a5a" stroke-width="0.8"/>
<path d="M466.3 94.8H492.6" stroke="#1f4fa3" stroke-width="1.5"/>
<circle cx="479.45" cy="94.8" r="2.8" fill="none" stroke="#1f4fa3" stroke-width="1.3"/>
<path d="M466.3 111.2h5.6M492.6 111.2h-5.6" stroke="#ee2c35" stroke-width="1.5"/>
<path d="M477.55 109.3l3.8 3.8M477.55 113.1l3.8 -3.8" stroke="#ee2c35" stroke-width="1.7"/>
<text x="494.9" y="96.1" font-size="10.2">Y<tspan font-size="8" dy="4.6">pred, 4</tspan></text>
<text x="494.9" y="112.5" font-size="10.2">Y<tspan font-size="8" dy="4.6">simu, 4</tspan></text>
<path d="M458.93 239.3V393.8M468.26 239.3V393.8M477.59 239.3V393.8M486.92 239.3V393.8M496.25 239.3V393.8M505.58 239.3V393.8M514.91 239.3V393.8M524.24 239.3V393.8M533.57 239.3V393.8M449.6 258.61H542.9M449.6 277.93H542.9M449.6 297.24H542.9M449.6 316.55H542.9M449.6 335.86H542.9M449.6 355.18H542.9M449.6 374.49H542.9" stroke="#d6d8d8" stroke-width="0.7" fill="none"/>
<path d="M449.6 393.8v-1.4M449.6 239.3v1.4M458.93 393.8v-1.4M458.93 239.3v1.4M468.26 393.8v-1.4M468.26 239.3v1.4M477.59 393.8v-1.4M477.59 239.3v1.4M486.92 393.8v-1.4M486.92 239.3v1.4M496.25 393.8v-1.4M496.25 239.3v1.4M505.58 393.8v-1.4M505.58 239.3v1.4M514.91 393.8v-1.4M514.91 239.3v1.4M524.24 393.8v-1.4M524.24 239.3v1.4M533.57 393.8v-1.4M533.57 239.3v1.4M542.9 393.8v-1.4M542.9 239.3v1.4M449.6 239.3h1.4M542.9 239.3h-1.4M449.6 258.61h1.4M542.9 258.61h-1.4M449.6 277.93h1.4M542.9 277.93h-1.4M449.6 297.24h1.4M542.9 297.24h-1.4M449.6 316.55h1.4M542.9 316.55h-1.4M449.6 335.86h1.4M542.9 335.86h-1.4M449.6 355.18h1.4M542.9 355.18h-1.4M449.6 374.49h1.4M542.9 374.49h-1.4M449.6 393.8h1.4M542.9 393.8h-1.4" stroke="#404040" stroke-width="0.75" fill="none"/>
<rect x="449.6" y="239.3" width="93.3" height="154.5" fill="none" stroke="#404040" stroke-width="0.75"/>
<text x="446.2" y="242.64" font-size="8.2" text-anchor="end" letter-spacing="-0.1">1.00</text>
<text x="446.2" y="261.95" font-size="8.2" text-anchor="end" letter-spacing="-0.1">0.98</text>
<text x="446.2" y="281.26" font-size="8.2" text-anchor="end" letter-spacing="-0.1">0.96</text>
<text x="446.2" y="300.57" font-size="8.2" text-anchor="end" letter-spacing="-0.1">0.94</text>
<text x="446.2" y="319.89" font-size="8.2" text-anchor="end" letter-spacing="-0.1">0.92</text>
<text x="446.2" y="339.2" font-size="8.2" text-anchor="end" letter-spacing="-0.1">0.90</text>
<text x="446.2" y="358.51" font-size="8.2" text-anchor="end" letter-spacing="-0.1">0.88</text>
<text x="446.2" y="377.82" font-size="8.2" text-anchor="end" letter-spacing="-0.1">0.86</text>
<text x="446.2" y="397.14" font-size="8.2" text-anchor="end" letter-spacing="-0.1">0.84</text>
<text transform="translate(453.18 397.1) rotate(-90)" font-size="10.0" text-anchor="end" letter-spacing="-0.3">0</text>
<text transform="translate(462.51 397.1) rotate(-90)" font-size="10.0" text-anchor="end" letter-spacing="-0.3">1</text>
<text transform="translate(471.84 397.1) rotate(-90)" font-size="10.0" text-anchor="end" letter-spacing="-0.3">2</text>
<text transform="translate(481.17 397.1) rotate(-90)" font-size="10.0" text-anchor="end" letter-spacing="-0.3">3</text>
<text transform="translate(490.5 397.1) rotate(-90)" font-size="10.0" text-anchor="end" letter-spacing="-0.3">4</text>
<text transform="translate(499.83 397.1) rotate(-90)" font-size="10.0" text-anchor="end" letter-spacing="-0.3">5</text>
<text transform="translate(509.16 397.1) rotate(-90)" font-size="10.0" text-anchor="end" letter-spacing="-0.3">6</text>
<text transform="translate(518.49 397.1) rotate(-90)" font-size="10.0" text-anchor="end" letter-spacing="-0.3">7</text>
<text transform="translate(527.82 397.1) rotate(-90)" font-size="10.0" text-anchor="end" letter-spacing="-0.3">8</text>
<text transform="translate(537.15 397.1) rotate(-90)" font-size="10.0" text-anchor="end" letter-spacing="-0.3">9</text>
<text transform="translate(546.48 397.1) rotate(-90)" font-size="10.0" text-anchor="end" letter-spacing="-0.3">10</text>
<text x="495.15" y="416.5" font-size="9.5" text-anchor="middle">Rank ID (predicted)</text>
<text transform="translate(422.8 316.05) rotate(-90)" font-size="10.0" text-anchor="middle">y<tspan font-size="8.0" dy="4.4">simu, 4</tspan><tspan dy="-4.4">/y</tspan><tspan font-size="8.0" dy="4.4">pred, 4</tspan><tspan dy="-4.4"> [-]</tspan></text>
<path d="M461.39 337.78L465.8 334.32M470.2 337.45L472.21 342.68M473.64 346.42L475.65 351.65M478.95 353.89L481.38 348.85M483.13 345.25L485.56 340.21M490.17 331.82L493 326.98M498.8 321.89L503.03 322.71M507.03 326.31L509.4 331.39M511.09 335.01L513.46 340.09M518.02 338.53L521.13 333.87M525.83 325.6L528.1 320.48M529.71 316.82L531.98 311.7M534.34 312.4L535.33 317.91M536.04 321.85L537.03 327.36M537.74 331.29L538.73 336.81M539.44 340.74L540.43 346.25M541.14 350.19L542.13 355.7" fill="none" stroke="#ee2c35" stroke-width="1.5"/>
<path d="M456.98 337.75l3.9 3.9M456.98 341.65l3.9 -3.9M466.31 330.45l3.9 3.9M466.31 334.35l3.9 -3.9M475.64 354.75l3.9 3.9M475.64 358.65l3.9 -3.9M484.97 335.45l3.9 3.9M484.97 339.35l3.9 -3.9M494.3 319.45l3.9 3.9M494.3 323.35l3.9 -3.9M503.63 321.25l3.9 3.9M503.63 325.15l3.9 -3.9M512.96 341.25l3.9 3.9M512.96 345.15l3.9 -3.9M522.29 327.25l3.9 3.9M522.29 331.15l3.9 -3.9M531.62 306.15l3.9 3.9M531.62 310.05l3.9 -3.9M540.95 358.05l3.9 3.9M540.95 361.95l3.9 -3.9" stroke="#ee2c35" stroke-width="1.7" fill="none"/>
<text x="458.73" y="337.5" font-size="10.0">3</text>
<text x="468.06" y="330.2" font-size="10.0">1</text>
<text x="505.38" y="321" font-size="10.0">2</text>
<path d="M597.63 25.3V179.6M606.96 25.3V179.6M616.29 25.3V179.6M625.62 25.3V179.6M634.95 25.3V179.6M644.28 25.3V179.6M653.61 25.3V179.6M662.94 25.3V179.6M672.27 25.3V179.6M588.3 47.34H681.6M588.3 69.39H681.6M588.3 91.43H681.6M588.3 113.47H681.6M588.3 135.51H681.6M588.3 157.56H681.6" stroke="#d6d8d8" stroke-width="0.7" fill="none"/>
<path d="M588.3 179.6v-1.4M588.3 25.3v1.4M597.63 179.6v-1.4M597.63 25.3v1.4M606.96 179.6v-1.4M606.96 25.3v1.4M616.29 179.6v-1.4M616.29 25.3v1.4M625.62 179.6v-1.4M625.62 25.3v1.4M634.95 179.6v-1.4M634.95 25.3v1.4M644.28 179.6v-1.4M644.28 25.3v1.4M653.61 179.6v-1.4M653.61 25.3v1.4M662.94 179.6v-1.4M662.94 25.3v1.4M672.27 179.6v-1.4M672.27 25.3v1.4M681.6 179.6v-1.4M681.6 25.3v1.4M588.3 25.3h1.4M681.6 25.3h-1.4M588.3 47.34h1.4M681.6 47.34h-1.4M588.3 69.39h1.4M681.6 69.39h-1.4M588.3 91.43h1.4M681.6 91.43h-1.4M588.3 113.47h1.4M681.6 113.47h-1.4M588.3 135.51h1.4M681.6 135.51h-1.4M588.3 157.56h1.4M681.6 157.56h-1.4M588.3 179.6h1.4M681.6 179.6h-1.4" stroke="#404040" stroke-width="0.75" fill="none"/>
<rect x="588.3" y="25.3" width="93.3" height="154.3" fill="none" stroke="#404040" stroke-width="0.75"/>
<text x="584.9" y="28.88" font-size="10.0" text-anchor="end" letter-spacing="-0.3">31</text>
<text x="584.9" y="50.92" font-size="10.0" text-anchor="end" letter-spacing="-0.3">30</text>
<text x="584.9" y="72.97" font-size="10.0" text-anchor="end" letter-spacing="-0.3">29</text>
<text x="584.9" y="95.01" font-size="10.0" text-anchor="end" letter-spacing="-0.3">28</text>
<text x="584.9" y="117.05" font-size="10.0" text-anchor="end" letter-spacing="-0.3">27</text>
<text x="584.9" y="139.09" font-size="10.0" text-anchor="end" letter-spacing="-0.3">26</text>
<text x="584.9" y="161.14" font-size="10.0" text-anchor="end" letter-spacing="-0.3">25</text>
<text x="584.9" y="183.18" font-size="10.0" text-anchor="end" letter-spacing="-0.3">24</text>
<text transform="translate(591.88 182.6) rotate(-90)" font-size="10.0" text-anchor="end" letter-spacing="-0.3">0</text>
<text transform="translate(601.21 182.6) rotate(-90)" font-size="10.0" text-anchor="end" letter-spacing="-0.3">1</text>
<text transform="translate(610.54 182.6) rotate(-90)" font-size="10.0" text-anchor="end" letter-spacing="-0.3">2</text>
<text transform="translate(619.87 182.6) rotate(-90)" font-size="10.0" text-anchor="end" letter-spacing="-0.3">3</text>
<text transform="translate(629.2 182.6) rotate(-90)" font-size="10.0" text-anchor="end" letter-spacing="-0.3">4</text>
<text transform="translate(638.53 182.6) rotate(-90)" font-size="10.0" text-anchor="end" letter-spacing="-0.3">5</text>
<text transform="translate(647.86 182.6) rotate(-90)" font-size="10.0" text-anchor="end" letter-spacing="-0.3">6</text>
<text transform="translate(657.19 182.6) rotate(-90)" font-size="10.0" text-anchor="end" letter-spacing="-0.3">7</text>
<text transform="translate(666.52 182.6) rotate(-90)" font-size="10.0" text-anchor="end" letter-spacing="-0.3">8</text>
<text transform="translate(675.85 182.6) rotate(-90)" font-size="10.0" text-anchor="end" letter-spacing="-0.3">9</text>
<text transform="translate(685.18 182.6) rotate(-90)" font-size="10.0" text-anchor="end" letter-spacing="-0.3">10</text>
<text x="633.85" y="203.3" font-size="9.5" text-anchor="middle">Rank ID (predicted)</text>
<text transform="translate(565.1 103.45) rotate(-90)" font-size="10.0" text-anchor="middle">y<tspan font-size="8.0" dy="4.4">5</tspan><tspan dy="-4.4"> [W/mm</tspan><tspan font-size="8.3" dy="-3.8">2</tspan><tspan dy="3.8">]</tspan></text>
<polyline points="597.63,162.2 606.96,163.2 616.29,156.6 625.62,160.4 634.95,170.2 644.28,158.9 653.61,163.2 662.94,158.4 672.27,178.2 681.6,158.6" fill="none" stroke="#1f4fa3" stroke-width="1.5" stroke-linejoin="round"/>
<circle cx="597.63" cy="162.2" r="2.8" fill="none" stroke="#1f4fa3" stroke-width="1.3"/>
<circle cx="606.96" cy="163.2" r="2.8" fill="none" stroke="#1f4fa3" stroke-width="1.3"/>
<circle cx="616.29" cy="156.6" r="2.8" fill="none" stroke="#1f4fa3" stroke-width="1.3"/>
<circle cx="625.62" cy="160.4" r="2.8" fill="none" stroke="#1f4fa3" stroke-width="1.3"/>
<circle cx="634.95" cy="170.2" r="2.8" fill="none" stroke="#1f4fa3" stroke-width="1.3"/>
<circle cx="644.28" cy="158.9" r="2.8" fill="none" stroke="#1f4fa3" stroke-width="1.3"/>
<circle cx="653.61" cy="163.2" r="2.8" fill="none" stroke="#1f4fa3" stroke-width="1.3"/>
<circle cx="662.94" cy="158.4" r="2.8" fill="none" stroke="#1f4fa3" stroke-width="1.3"/>
<circle cx="672.27" cy="178.2" r="2.8" fill="none" stroke="#1f4fa3" stroke-width="1.3"/>
<circle cx="681.6" cy="158.6" r="2.8" fill="none" stroke="#1f4fa3" stroke-width="1.3"/>
<path d="M600.22 137.02L604.37 136.58M610.16 131.09L613.09 126.31M616.63 117.92L617.21 112.35M617.63 108.38L618.22 102.81M618.64 98.83L619.23 93.26M619.65 89.28L620.24 83.71M620.66 79.73L621.25 74.17M621.67 70.19L622.26 64.62M622.68 60.64L623.27 55.07M623.69 51.09L624.28 45.52M624.7 41.55L625.28 35.98M625.86 35.59L626.35 41.17M626.7 45.16L627.19 50.74M627.53 54.72L628.02 60.3M628.37 64.28L628.86 69.86M629.21 73.85L629.69 79.43M630.04 83.41L630.53 88.99M630.88 92.97L631.36 98.55M631.71 102.54L632.2 108.12M632.55 112.1L633.04 117.68M633.38 121.66L633.87 127.24M634.22 131.23L634.71 136.81M637.55 139.52L641.68 139.38M645.24 134.95L646.45 129.48M647.31 125.57L648.51 120.1M649.38 116.2L650.58 110.73M651.44 106.82L652.65 101.35M656.29 99.67L660.26 103.63M665.51 105.89L669.7 105.21M672.87 100.14L673.59 94.58M674.11 90.62L674.83 85.06M675.34 81.1L676.06 75.54M676.58 71.58L677.29 66.02M677.81 62.06L678.53 56.5M679.04 52.54L679.76 46.98M680.28 43.02L681 37.46" fill="none" stroke="#ee2c35" stroke-width="1.5"/>
<path d="M595.68 135.35l3.9 3.9M595.68 139.25l3.9 -3.9M605.01 134.35l3.9 3.9M605.01 138.25l3.9 -3.9M614.34 119.15l3.9 3.9M614.34 123.05l3.9 -3.9M623.67 30.85l3.9 3.9M623.67 34.75l3.9 -3.9M633 137.65l3.9 3.9M633 141.55l3.9 -3.9M642.33 137.35l3.9 3.9M642.33 141.25l3.9 -3.9M651.66 95.05l3.9 3.9M651.66 98.95l3.9 -3.9M660.99 104.35l3.9 3.9M660.99 108.25l3.9 -3.9M670.32 102.85l3.9 3.9M670.32 106.75l3.9 -3.9M679.65 30.85l3.9 3.9M679.65 34.75l3.9 -3.9" stroke="#ee2c35" stroke-width="1.7" fill="none"/>
<text x="597.43" y="135.1" font-size="10.0">3</text>
<text x="606.76" y="134.1" font-size="10.0">1</text>
<text x="644.08" y="137.1" font-size="10.0">2</text>
<rect x="593.6" y="40.4" width="65.7" height="35.1" fill="#fff" stroke="#5a5a5a" stroke-width="0.8"/>
<path d="M596.5 49.8H622.8" stroke="#1f4fa3" stroke-width="1.5"/>
<circle cx="609.65" cy="49.8" r="2.8" fill="none" stroke="#1f4fa3" stroke-width="1.3"/>
<path d="M596.5 66.2h5.6M622.8 66.2h-5.6" stroke="#ee2c35" stroke-width="1.5"/>
<path d="M607.75 64.3l3.8 3.8M607.75 68.1l3.8 -3.8" stroke="#ee2c35" stroke-width="1.7"/>
<text x="625.1" y="51.1" font-size="10.2">Y<tspan font-size="8" dy="4.6">pred, 5</tspan></text>
<text x="625.1" y="67.5" font-size="10.2">Y<tspan font-size="8" dy="4.6">simu, 5</tspan></text>
<path d="M597.63 239.3V393.8M606.96 239.3V393.8M616.29 239.3V393.8M625.62 239.3V393.8M634.95 239.3V393.8M644.28 239.3V393.8M653.61 239.3V393.8M662.94 239.3V393.8M672.27 239.3V393.8M588.3 270.2H681.6M588.3 301.1H681.6M588.3 332H681.6M588.3 362.9H681.6" stroke="#d6d8d8" stroke-width="0.7" fill="none"/>
<path d="M588.3 393.8v-1.4M588.3 239.3v1.4M597.63 393.8v-1.4M597.63 239.3v1.4M606.96 393.8v-1.4M606.96 239.3v1.4M616.29 393.8v-1.4M616.29 239.3v1.4M625.62 393.8v-1.4M625.62 239.3v1.4M634.95 393.8v-1.4M634.95 239.3v1.4M644.28 393.8v-1.4M644.28 239.3v1.4M653.61 393.8v-1.4M653.61 239.3v1.4M662.94 393.8v-1.4M662.94 239.3v1.4M672.27 393.8v-1.4M672.27 239.3v1.4M681.6 393.8v-1.4M681.6 239.3v1.4M588.3 239.3h1.4M681.6 239.3h-1.4M588.3 270.2h1.4M681.6 270.2h-1.4M588.3 301.1h1.4M681.6 301.1h-1.4M588.3 332h1.4M681.6 332h-1.4M588.3 362.9h1.4M681.6 362.9h-1.4M588.3 393.8h1.4M681.6 393.8h-1.4" stroke="#404040" stroke-width="0.75" fill="none"/>
<rect x="588.3" y="239.3" width="93.3" height="154.5" fill="none" stroke="#404040" stroke-width="0.75"/>
<text x="584.9" y="242.64" font-size="8.2" text-anchor="end" letter-spacing="-0.1">1.25</text>
<text x="584.9" y="273.54" font-size="8.2" text-anchor="end" letter-spacing="-0.1">1.20</text>
<text x="584.9" y="304.44" font-size="8.2" text-anchor="end" letter-spacing="-0.1">1.15</text>
<text x="584.9" y="335.34" font-size="8.2" text-anchor="end" letter-spacing="-0.1">1.10</text>
<text x="584.9" y="366.24" font-size="8.2" text-anchor="end" letter-spacing="-0.1">1.05</text>
<text x="584.9" y="397.14" font-size="8.2" text-anchor="end" letter-spacing="-0.1">1.00</text>
<text transform="translate(591.88 397.1) rotate(-90)" font-size="10.0" text-anchor="end" letter-spacing="-0.3">0</text>
<text transform="translate(601.21 397.1) rotate(-90)" font-size="10.0" text-anchor="end" letter-spacing="-0.3">1</text>
<text transform="translate(610.54 397.1) rotate(-90)" font-size="10.0" text-anchor="end" letter-spacing="-0.3">2</text>
<text transform="translate(619.87 397.1) rotate(-90)" font-size="10.0" text-anchor="end" letter-spacing="-0.3">3</text>
<text transform="translate(629.2 397.1) rotate(-90)" font-size="10.0" text-anchor="end" letter-spacing="-0.3">4</text>
<text transform="translate(638.53 397.1) rotate(-90)" font-size="10.0" text-anchor="end" letter-spacing="-0.3">5</text>
<text transform="translate(647.86 397.1) rotate(-90)" font-size="10.0" text-anchor="end" letter-spacing="-0.3">6</text>
<text transform="translate(657.19 397.1) rotate(-90)" font-size="10.0" text-anchor="end" letter-spacing="-0.3">7</text>
<text transform="translate(666.52 397.1) rotate(-90)" font-size="10.0" text-anchor="end" letter-spacing="-0.3">8</text>
<text transform="translate(675.85 397.1) rotate(-90)" font-size="10.0" text-anchor="end" letter-spacing="-0.3">9</text>
<text transform="translate(685.18 397.1) rotate(-90)" font-size="10.0" text-anchor="end" letter-spacing="-0.3">10</text>
<text x="633.85" y="416.5" font-size="9.5" text-anchor="middle">Rank ID (predicted)</text>
<text transform="translate(561.5 316.05) rotate(-90)" font-size="10.0" text-anchor="middle">y<tspan font-size="8.0" dy="4.4">simu, 5</tspan><tspan dy="-4.4">/y</tspan><tspan font-size="8.0" dy="4.4">pred, 5</tspan><tspan dy="-4.4"> [-]</tspan></text>
<path d="M600.15 364.28L604.44 363.22M609.71 359.65L613.54 355.55M616.81 346.91L617.31 341.34M617.67 337.35L618.18 331.77M618.54 327.79L619.04 322.21M619.4 318.23L619.91 312.65M620.27 308.67L620.77 303.09M621.14 299.11L621.64 293.53M622 289.55L622.51 283.97M622.87 279.99L623.37 274.41M623.73 270.43L624.24 264.85M624.6 260.86L625.1 255.29M625.92 253.14L626.41 258.72M626.75 262.7L627.23 268.28M627.57 272.27L628.05 277.85M628.4 281.83L628.88 287.41M629.22 291.4L629.7 296.98M630.04 300.96L630.53 306.54M630.87 310.52L631.35 316.1M631.69 320.09L632.17 325.67M632.52 329.65L633 335.23M633.34 339.22L633.82 344.8M634.16 348.78L634.65 354.36M638.02 362.35L641.21 366.95M645.17 366.27L646.13 360.76M646.82 356.82L647.78 351.3M648.46 347.36L649.43 341.84M650.11 337.9L651.07 332.38M651.76 328.44L652.72 322.93M654.62 319.64L657.31 324.55M659.24 328.05L661.93 332.96M665.06 328.81L666.94 323.53M668.27 319.77L670.15 314.49M673.29 302.4L674.22 296.87M674.88 292.93L675.81 287.41M676.47 283.46L677.4 277.94M678.06 273.99L678.99 268.47M679.65 264.53L680.58 259" fill="none" stroke="#ee2c35" stroke-width="1.5"/>
<path d="M595.68 362.95l3.9 3.9M595.68 366.85l3.9 -3.9M605.01 360.65l3.9 3.9M605.01 364.55l3.9 -3.9M614.34 350.65l3.9 3.9M614.34 354.55l3.9 -3.9M623.67 247.65l3.9 3.9M623.67 251.55l3.9 -3.9M633 355.95l3.9 3.9M633 359.85l3.9 -3.9M642.33 369.45l3.9 3.9M642.33 373.35l3.9 -3.9M651.66 315.85l3.9 3.9M651.66 319.75l3.9 -3.9M660.99 332.85l3.9 3.9M660.99 336.75l3.9 -3.9M670.32 306.55l3.9 3.9M670.32 310.45l3.9 -3.9M679.65 250.95l3.9 3.9M679.65 254.85l3.9 -3.9" stroke="#ee2c35" stroke-width="1.7" fill="none"/>
<text x="597.43" y="362.7" font-size="10.0">3</text>
<text x="606.76" y="360.4" font-size="10.0">1</text>
<text x="644.08" y="369.2" font-size="10.0">2</text>
</svg>
</body></html>
